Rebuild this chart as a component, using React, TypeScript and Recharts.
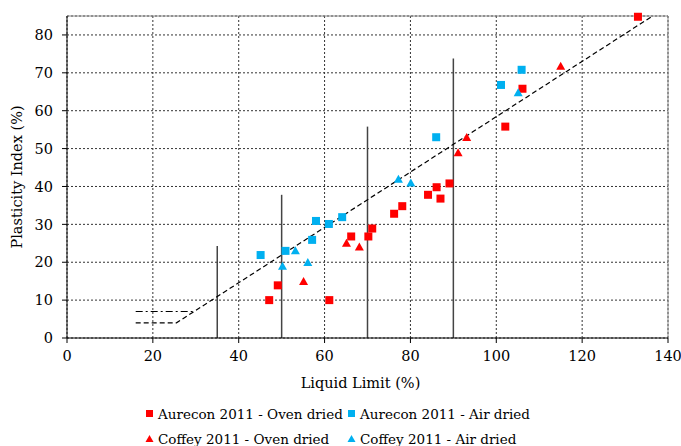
import React from 'react';
import { ComposedChart, Scatter, XAxis, YAxis, CartesianGrid, ReferenceLine, Legend } from 'recharts';

// Liquid limit (x) vs plasticity index (y)
const aureconOven = [
  { x: 47.1, y: 10 }, { x: 49.1, y: 13.9 }, { x: 61.1, y: 10 }, { x: 66.2, y: 26.8 },
  { x: 70.2, y: 26.8 }, { x: 71.1, y: 28.9 }, { x: 76.2, y: 32.8 }, { x: 78.1, y: 34.8 },
  { x: 84.1, y: 37.8 }, { x: 86.1, y: 39.8 }, { x: 87.0, y: 36.8 }, { x: 89.1, y: 40.8 },
  { x: 102.1, y: 55.8 }, { x: 106.1, y: 65.8 }, { x: 133, y: 84.8 },
];
const aureconAir = [
  { x: 45.1, y: 21.9 }, { x: 50.9, y: 23 }, { x: 57.1, y: 25.9 }, { x: 58, y: 30.9 },
  { x: 61, y: 30.1 }, { x: 64.1, y: 31.9 }, { x: 86, y: 53 }, { x: 101.1, y: 66.8 },
  { x: 105.9, y: 70.8 },
];
const coffeyOven = [
  { x: 55.1, y: 14.8 }, { x: 65.1, y: 24.9 }, { x: 68.1, y: 23.9 }, { x: 91.1, y: 48.8 },
  { x: 93.1, y: 52.8 }, { x: 115, y: 71.6 },
];
const coffeyAir = [
  { x: 50.2, y: 18.8 }, { x: 53.2, y: 22.9 }, { x: 56.1, y: 19.8 }, { x: 77.2, y: 41.8 },
  { x: 80.1, y: 40.8 }, { x: 105.1, y: 64.6 },
];

// A-line with its 4% floor, and the 7% dash-dot floor
const aLine = [{ x: 16, y: 4 }, { x: 25.5, y: 4 }, { x: 136.4, y: 85 }];
const upperFloor = [{ x: 16, y: 7 }, { x: 29.6, y: 7 }];
// vertical dividers, up to the U-line
const dividers = [
  { ll: 35, pi: 24.3 }, { ll: 50, pi: 37.8 }, { ll: 70, pi: 55.8 }, { ll: 90, pi: 73.8 },
];

const xTicks = [0, 20, 40, 60, 80, 100, 120, 140];
const yTicks = [0, 10, 20, 30, 40, 50, 60, 70, 80];

const RED = '#FF0000';
const BLUE = '#00B0F0';
const FONT = '"DejaVu Serif", serif';
const FS = 14.5;

const square = (fill: string) => (p: any) => (
  <rect x={p.cx - 4} y={p.cy - 4} width={8} height={8} fill={fill} />
);
const triangle = (fill: string) => (p: any) => (
  <polygon points={`${p.cx},${p.cy - 5} ${p.cx + 4.5},${p.cy + 3} ${p.cx - 4.5},${p.cy + 3}`} fill={fill} />
);

const legendItems = [
  { label: 'Aurecon 2011 - Oven dried', color: RED, tri: false, left: 145, top: 0 },
  { label: 'Aurecon 2011 - Air dried', color: BLUE, tri: false, left: 347, top: 0 },
  { label: 'Coffey 2011 - Oven dried', color: RED, tri: true, left: 145, top: 25 },
  { label: 'Coffey 2011 - Air dried', color: BLUE, tri: true, left: 347, top: 25 },
];

const LegendBox = () => (
  <div style={{ position: 'relative', width: 681, height: 52, fontFamily: FONT, fontSize: 13.5, color: '#000' }}>
    {legendItems.map((it) => (
      <div key={it.label} style={{ position: 'absolute', left: it.left, top: 11 + it.top, height: 18, lineHeight: '18px', whiteSpace: 'nowrap', display: 'flex', alignItems: 'center' }}>
        <svg width={9} height={9} style={{ marginRight: 4, marginTop: -1 }}>
          {it.tri
            ? <polygon points="4.5,1 8.5,8 0.5,8" fill={it.color} />
            : <rect x={1} y={1} width={7} height={7} fill={it.color} />}
        </svg>
        <span>{it.label}</span>
      </div>
    ))}
  </div>
);

export default function App() {
  const tickStyle = { fontSize: FS, fill: '#000', fontFamily: FONT };
  return (
    <div style={{ position: 'absolute', left: 0, top: 0, width: 681, height: 446, background: '#fff', fontFamily: FONT }}>
      <ComposedChart width={681} height={446} margin={{ top: 16, right: 13, left: 0, bottom: 0 }} style={{ fontFamily: FONT }}>
        <CartesianGrid stroke="#333" strokeDasharray="2 2" />
        <XAxis
          type="number"
          dataKey="x"
          domain={[0, 140]}
          ticks={xTicks}
          height={56}
          tick={tickStyle}
          tickSize={5}
          tickMargin={8}
          axisLine={{ stroke: '#000' }}
          tickLine={{ stroke: '#000' }}
          label={{ value: 'Liquid Limit (%)', position: 'insideBottom', offset: 6, dx: -7, fontSize: FS, fill: '#000', fontFamily: FONT }}
        />
        <YAxis
          type="number"
          dataKey="y"
          domain={[0, 85]}
          ticks={yTicks}
          width={67}
          tick={tickStyle}
          tickSize={5}
          tickMargin={9}
          axisLine={{ stroke: '#000' }}
          tickLine={{ stroke: '#000' }}
          label={{ value: 'Plasticity Index (%)', angle: -90, position: 'insideLeft', offset: 17, style: { textAnchor: 'middle' }, fontSize: FS, fill: '#000', fontFamily: FONT }}
        />
        <ReferenceLine y={85} stroke="#888" />
        <ReferenceLine x={140} stroke="#888" />
        {dividers.map((d) => (
          <ReferenceLine key={d.ll} segment={[{ x: d.ll, y: 0 }, { x: d.ll, y: d.pi }]} stroke="#444" strokeWidth={1.5} />
        ))}
        <Scatter data={aLine} line={{ stroke: '#000', strokeWidth: 1.2, strokeDasharray: '5 3' }} shape={() => <g />} legendType="none" isAnimationActive={false} />
        <Scatter data={upperFloor} line={{ stroke: '#000', strokeWidth: 1.2, strokeDasharray: '7 3 2 3' }} shape={() => <g />} legendType="none" isAnimationActive={false} />
        <Scatter name="Aurecon 2011 - Oven dried" data={aureconOven} shape={square(RED)} isAnimationActive={false} />
        <Scatter name="Aurecon 2011 - Air dried" data={aureconAir} shape={square(BLUE)} isAnimationActive={false} />
        <Scatter name="Coffey 2011 - Oven dried" data={coffeyOven} shape={triangle(RED)} isAnimationActive={false} />
        <Scatter name="Coffey 2011 - Air dried" data={coffeyAir} shape={triangle(BLUE)} isAnimationActive={false} />
        <Legend verticalAlign="bottom" content={() => <LegendBox />} wrapperStyle={{ left: 0, width: 681, height: 52 }} />
      </ComposedChart>
    </div>
  );
}
